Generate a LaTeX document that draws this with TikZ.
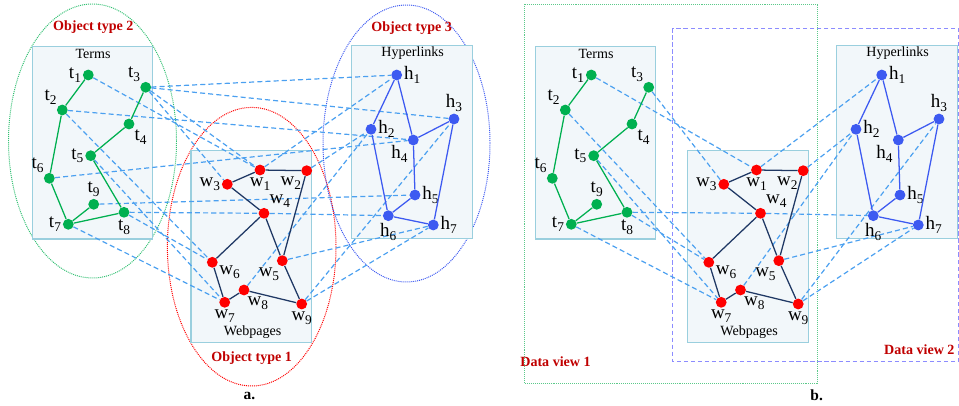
\documentclass[tikz,border=0pt]{standalone}
\usepackage{fontspec}
\setmainfont{Liberation Serif}
\usepackage{xcolor}
\usepackage{tikz}
\definecolor{tgreen}{HTML}{00B050}
\definecolor{wred}{HTML}{FF0000}
\definecolor{wnavy}{HTML}{1F3864}
\definecolor{hblue}{HTML}{3D5AF1}
\definecolor{linkblue}{HTML}{4BA0F0}
\definecolor{boxfill}{HTML}{F2F7FA}
\definecolor{boxline}{HTML}{9ACFDE}
\definecolor{tagred}{HTML}{C00000}
\definecolor{viewgreen}{HTML}{5CC98A}
\definecolor{viewblue}{HTML}{8C8CFF}
\newcommand{\lsub}[1]{\raisebox{-0.45ex}{\fontsize{9.5}{9.5}\selectfont#1}}
\pgfdeclarelayer{boxes}
\pgfdeclarelayer{links}
\pgfsetlayers{boxes,links,main}
\tikzset{
  tdot/.style={circle, fill=tgreen, inner sep=0pt, minimum size=0.27cm},
  wdot/.style={circle, fill=wred, inner sep=0pt, minimum size=0.27cm},
  hdot/.style={circle, fill=hblue, inner sep=0pt, minimum size=0.27cm},
  tedge/.style={draw=tgreen, line width=0.9pt},
  wedge/.style={draw=wnavy, line width=0.9pt},
  hedge/.style={draw=hblue, line width=0.9pt},
  xlink/.style={draw=linkblue, line width=0.85pt, dash pattern=on 3.6pt off 2.2pt},
  typebox/.style={draw=boxline, fill=boxfill, line width=1pt},
  ring/.style={line width=0.7pt, dash pattern=on 0.7pt off 0.7pt},
  boxtitle/.style={font=\fontsize{10}{12}\selectfont, inner sep=0pt},
  nlab/.style={font=\fontsize{13.5}{15}\selectfont, inner sep=1pt},
  tag/.style={text=tagred, font=\fontsize{10}{12}\selectfont\bfseries, inner sep=0pt},
  part/.style={font=\fontsize{11}{13}\selectfont\bfseries, inner sep=0pt},
}
\begin{document}
\begin{tikzpicture}[x=0.025cm, y=-0.025cm]
  \useasboundingbox (0,0) rectangle (959,406);

  % object types (a)
  \begin{pgfonlayer}{boxes}
    \draw[ring, draw=tgreen!80] (92.5,141) ellipse [x radius=84, y radius=137];
    \draw[ring, draw=wred] (251.7,246.7) ellipse [x radius=84.3, y radius=139.3];
    \draw[ring, draw=hblue] (406.5,143.5) ellipse [x radius=83.5, y radius=138.5];
  \end{pgfonlayer}
  \node[tag] (type2) at (93.3,27.3) {Object type 2};
  \node[tag] (type1) at (251.7,358.3) {Object type 1};
  \node[tag] (type3) at (411.7,28.3) {Object type 3};

  % data views (b)
  \begin{pgfonlayer}{boxes}
    \draw[ring, draw=viewgreen] (524.3,4) rectangle (817.3,383.3);
    \draw[draw=viewblue, line width=0.8pt, dash pattern=on 3pt off 2pt] (672.7,28.3) rectangle (958.5,361.7);
  \end{pgfonlayer}
  \node[tag] (view1) at (555.5,362) {Data view 1};
  \node[tag] (view2) at (919.3,350) {Data view 2};

  % terms
  \foreach \p/\dx in {a/0,b/503}{
    \begin{scope}[shift={(\dx,0)}, name prefix=\p-]
      \begin{pgfonlayer}{boxes}
        \draw[typebox] (32.3,46.7) rectangle (152.7,239);
      \end{pgfonlayer}
      \node[boxtitle] (title) at (93,53.5) {Terms};
      \foreach \n/\x/\y/\pos in {1/88.3/75/left, 2/62.3/110/above left, 3/145.7/87.3/above left,
          4/129/124/below right, 5/90.7/155.7/left, 6/49.3/178.3/above left,
          7/68.3/224.3/left, 8/124/212.3/below, 9/93.7/204.3/above}
        \node[tdot, label={[nlab]\pos:t\lsub{\n}}] (t\n) at (\x,\y) {};
      \foreach \u/\v in {1/2,2/6,6/7,7/9,7/8,8/5,5/4,4/3}
        \draw[tedge] (t\u) -- (t\v);
    \end{scope}
  }

  % webpages
  \foreach \p/\dx in {a/0,b/496.5}{
    \begin{scope}[shift={(\dx,0)}, name prefix=\p-]
      \begin{pgfonlayer}{boxes}
        \draw[typebox] (191,150.7) rectangle (311.7,342.7);
      \end{pgfonlayer}
      \node[boxtitle] (title) at (252.7,332.3) {Webpages};
      \foreach \n/\x/\y/\pos in {1/260/170/below, 2/306.7/170.7/below left, 3/227.3/184.3/left,
          4/264/213.3/above right, 5/282.3/260.7/-105, 6/212.3/262.3/-15,
          7/224.7/302.3/below, 8/244/290/-70, 9/301.7/304/below}
        \node[wdot, label={[nlab]\pos:w\lsub{\n}}] (w\n) at (\x,\y) {};
      \foreach \u/\v in {3/1,1/2,3/4,4/6,4/5,2/5,5/9,6/7,7/8,8/9}
        \draw[wedge] (w\u) -- (w\v);
    \end{scope}
  }

  % hyperlinks
  \foreach \p/\dx in {a/0,b/485}{
    \begin{scope}[shift={(\dx,0)}, name prefix=\p-]
      \begin{pgfonlayer}{boxes}
        \draw[typebox] (351.7,45.7) rectangle (472.3,238.3);
      \end{pgfonlayer}
      \node[boxtitle] (title) at (412.7,53.5) {Hyperlinks};
      \foreach \n/\x/\y/\pos in {1/396.7/75/right, 2/371/129.3/right, 3/454/119/above,
          4/413.3/140/below left, 5/415/195/right, 6/388.3/215.7/below, 7/433.3/225/right}
        \node[hdot, label={[nlab]\pos:h\lsub{\n}}] (h\n) at (\x,\y) {};
      \foreach \u/\v in {1/2,1/4,4/3,4/5,2/6,6/5,6/7,7/3}
        \draw[hedge] (h\u) -- (h\v);
    \end{scope}
  }

  % links between object types
  \begin{pgfonlayer}{links}
    \foreach \u/\v in {t1/w1,t3/w1,t3/w3,t2/w6,t5/w7,t7/w7,t8/w6,t8/w4,
        t3/h1,t3/h3,t2/h4,t6/h4,t9/h5,
        w4/h6,w1/h1,w2/h2,w5/h7,w8/h2,w9/h3,w9/h7}
      \draw[xlink] (a-\u) -- (a-\v);
    \foreach \u/\v in {t1/w1,t3/w3,t2/w6,t5/w7,t7/w7,t8/w6,t8/w4,
        w4/h6,w1/h1,w2/h2,w5/h7,w8/h2,w9/h3,w9/h7}
      \draw[xlink] (b-\u) -- (b-\v);
  \end{pgfonlayer}

  \node[part] (capa) at (249.5,396) {a.};
  \node[part] (capb) at (816.7,395) {b.};
\end{tikzpicture}
\end{document}
